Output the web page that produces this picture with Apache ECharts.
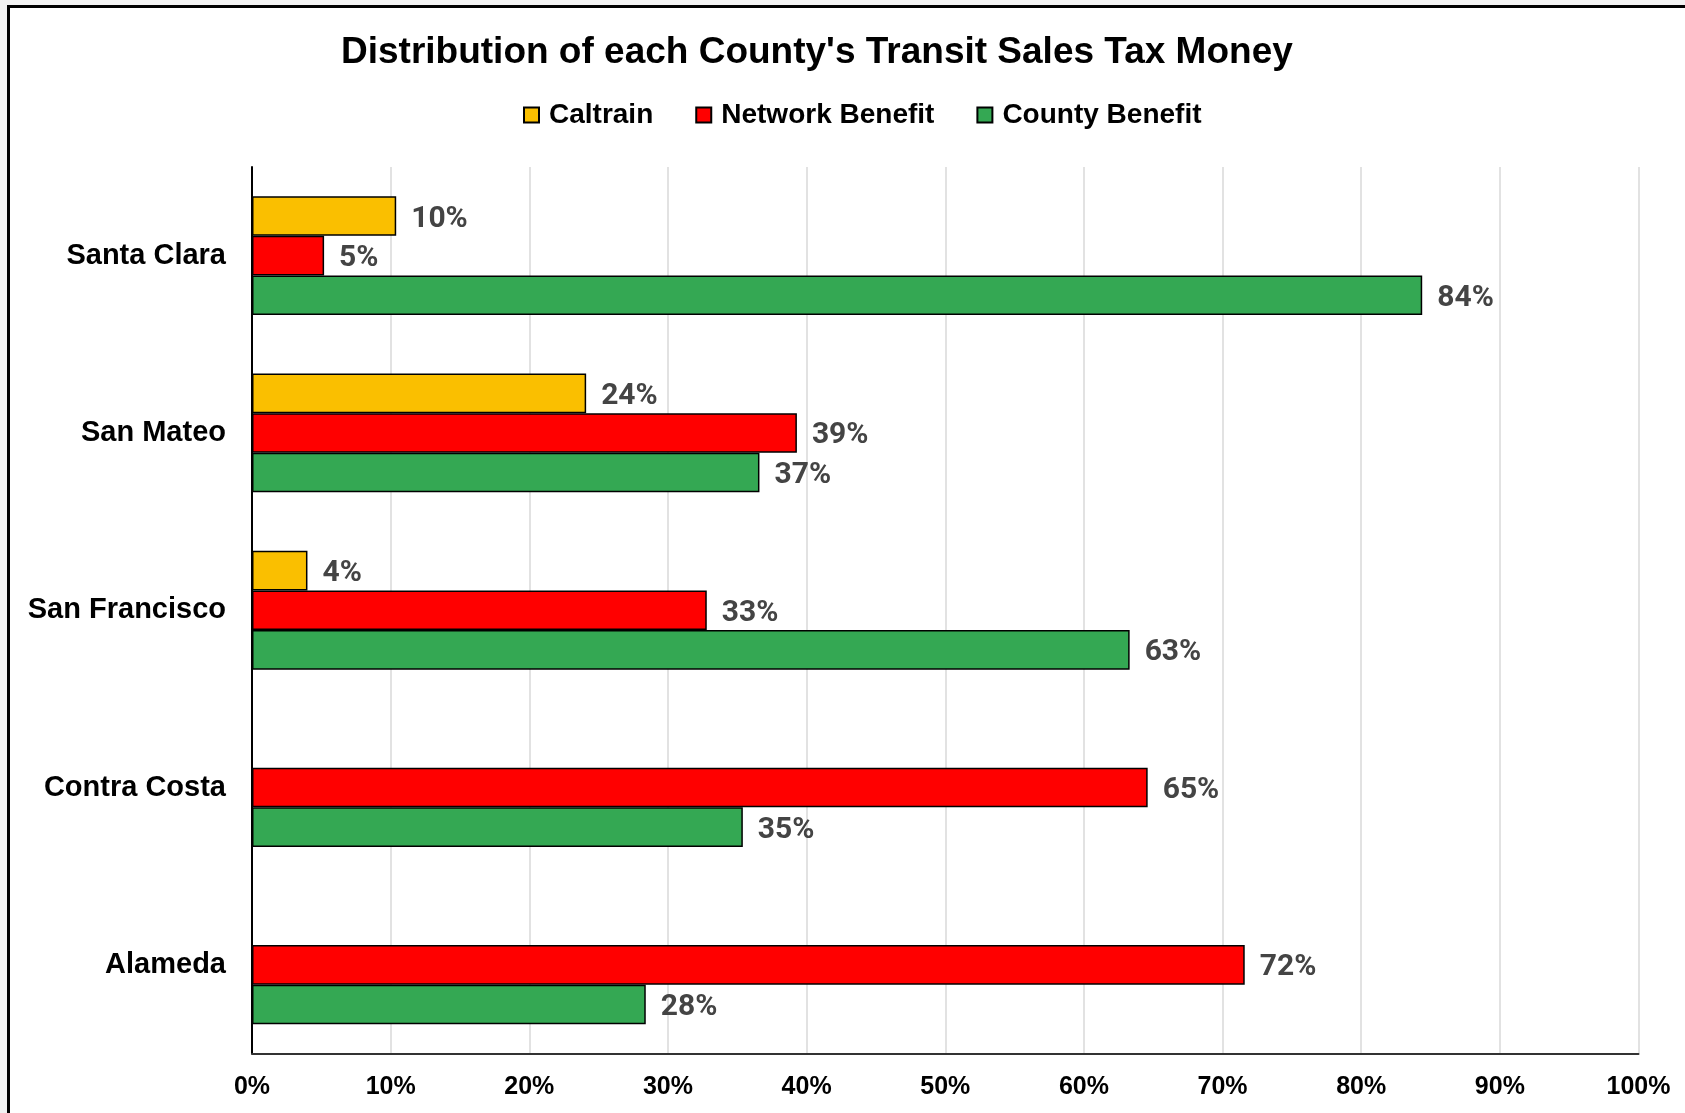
<!DOCTYPE html>
<html>
<head>
<meta charset="utf-8">
<title>Distribution of each County's Transit Sales Tax Money</title>
<script src="https://cdn.jsdelivr.net/npm/echarts@6/dist/echarts.min.js"></script>
<style>
  html, body { margin: 0; padding: 0; background: #f2f2f2; }
  #frame {
    position: absolute; left: 7px; top: 5px; width: 1700px; height: 1130px;
    background: #fff; border-left: 3px solid #000; border-top: 3px solid #000;
  }
  #chart { position: absolute; left: 0; top: 0; width: 1685px; height: 1113px; }
</style>
</head>
<body>
<div id="frame"></div>
<div id="chart"></div>
<script>
// counties, top to bottom
const counties = ['Santa Clara', 'San Mateo', 'San Francisco', 'Contra Costa', 'Alameda'];
// percent of each county's money
const caltrain = [10.4, 24.1, 4.0, null, null];
const network = [5.2, 39.3, 32.8, 64.6, 71.6];
const countyBenefit = [84.4, 36.6, 63.3, 35.4, 28.4];
const tickValues = [0, 10, 20, 30, 40, 50, 60, 70, 80, 90, 100];

const labelFont = 'Liberation Sans, Arial, sans-serif';

function barSeries(name, color, data) {
  return {
    name: name,
    type: 'bar',
    data: data,
    barGap: 0,
    barCategoryGap: '33%',
    itemStyle: { color: color, borderColor: '#000', borderWidth: 1.5 },
    label: {
      show: true,
      position: 'right',
      distance: 15,
      offset: [0, 3],
      color: '#444',
      fontFamily: 'Roboto, sans-serif',
      fontWeight: 'bold',
      fontSize: 30,
      formatter: p => (p.value == null ? '' : Math.round(p.value) + '%')
    }
  };
}

const chart = echarts.init(document.getElementById('chart'));
chart.setOption({
  backgroundColor: 'transparent',
  animation: false,
  title: {
    text: "Distribution of each County's Transit Sales Tax Money",
    left: 336,
    top: 29,
    textStyle: { fontFamily: labelFont, fontWeight: 'bold', fontSize: 37, color: '#000' }
  },
  legend: {
    data: ['Caltrain', 'Network Benefit', 'County Benefit'],
    left: 518,
    top: 96,
    itemWidth: 15,
    itemHeight: 15,
    itemGap: 42,
    icon: 'rect',
    textStyle: {
      fontFamily: labelFont, fontWeight: 'bold', fontSize: 28, color: '#000',
      padding: [0, 0, 0, 5]
    }
  },
  grid: { left: 252, right: 46.5, top: 167, bottom: 59.5, containLabel: false },
  xAxis: {
    type: 'value',
    min: tickValues[0],
    max: tickValues[tickValues.length - 1],
    interval: 10,
    axisLine: { show: true, lineStyle: { color: '#333', width: 2 } },
    axisTick: { show: false },
    splitLine: { show: true, lineStyle: { color: '#d9d9d9', width: 1.5 } },
    axisLabel: {
      formatter: '{value}%',
      margin: 21,
      color: '#000',
      fontFamily: labelFont,
      fontWeight: 'bold',
      fontSize: 25
    }
  },
  yAxis: {
    type: 'category',
    data: counties,
    inverse: true,
    axisLine: { show: true, lineStyle: { color: '#000', width: 2 } },
    axisTick: { show: false },
    axisLabel: {
      margin: 26,
      color: '#000',
      fontFamily: labelFont,
      fontWeight: 'bold',
      fontSize: 29
    }
  },
  series: [
    barSeries('Caltrain', '#fabf00', caltrain),
    barSeries('Network Benefit', '#ff0000', network),
    barSeries('County Benefit', '#34a853', countyBenefit)
  ]
});
</script>
</body>
</html>
